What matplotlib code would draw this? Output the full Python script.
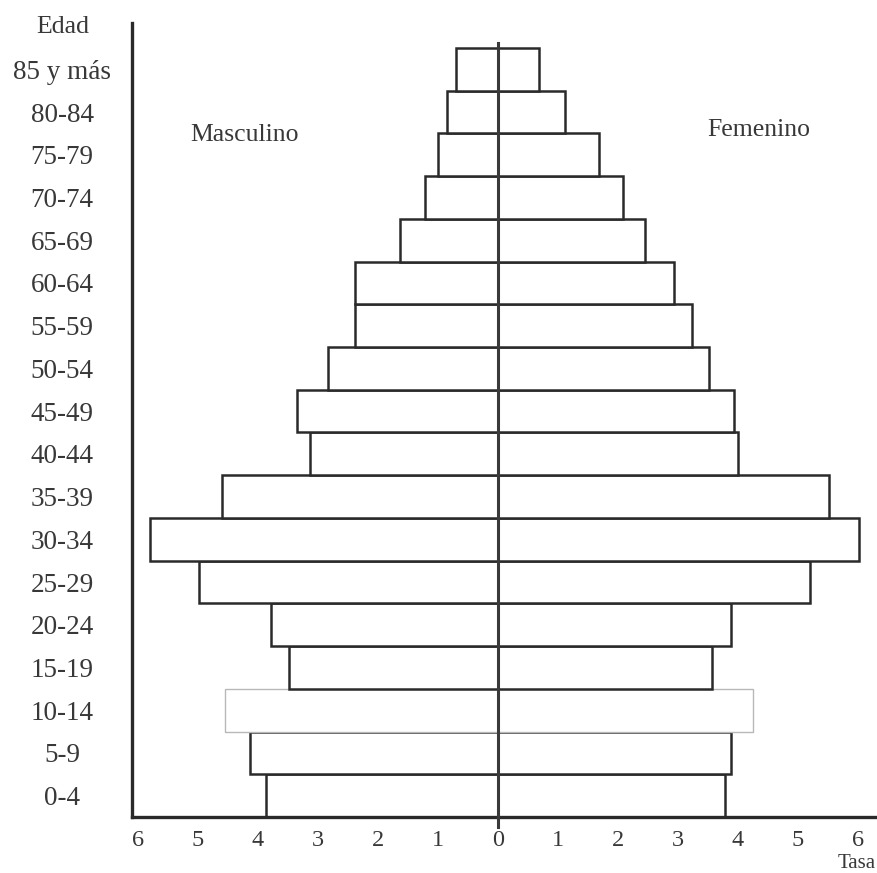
import matplotlib
matplotlib.use("Agg")
import matplotlib.pyplot as plt
import numpy as np

plt.rcParams['font.family'] = ['Liberation Serif', 'DejaVu Serif']

age_groups = ["0-4", "5-9", "10-14", "15-19", "20-24", "25-29", "30-34", "35-39",
              "40-44", "45-49", "50-54", "55-59", "60-64", "65-69", "70-74",
              "75-79", "80-84", "85 y más"]
masculino = [3.87, 4.13, 4.55, 3.48, 3.78, 4.98, 5.80, 4.60,
             3.13, 3.35, 2.83, 2.38, 2.38, 1.63, 1.22, 1.00, 0.85, 0.70]
femenino = [3.78, 3.88, 4.25, 3.57, 3.88, 5.20, 6.02, 5.52,
            4.00, 3.93, 3.52, 3.23, 2.93, 2.45, 2.08, 1.68, 1.12, 0.68]
x_ticks = [-6, -5, -4, -3, -2, -1, 0, 1, 2, 3, 4, 5, 6]
x_tick_labels = ["6", "5", "4", "3", "2", "1", "0", "1", "2", "3", "4", "5", "6"]

fig = plt.figure(figsize=(8.77, 8.73), dpi=100)
ax = fig.add_axes([0.150, 0.0641, 0.850, 0.9096])

y = np.arange(len(age_groups))
edge_colors = ['#2a2a2a'] * len(age_groups)
edge_widths = [1.8] * len(age_groups)
edge_colors[2] = '#b8b8b8'
edge_widths[2] = 1.0

ax.barh(y, [-m for m in masculino], height=1.0, color='white',
        edgecolor=edge_colors, linewidth=edge_widths, zorder=2)
ax.barh(y, femenino, height=1.0, color='white',
        edgecolor=edge_colors, linewidth=edge_widths, zorder=2)

ax.axvline(0, ymin=-0.012, ymax=0.975, color='#3a3a3a', lw=2.2, zorder=3, clip_on=False)

ax.set_xlim(-6.105, 6.317)
ax.set_ylim(-0.5, 18.085)

ax.set_xticks(x_ticks)
ax.set_xticklabels(x_tick_labels, fontsize=17.5, color='#383838')
ax.set_yticks(y)
ax.set_yticklabels(age_groups, fontsize=19.5, color='#383838', ha='center')
ax.tick_params(axis='x', length=0, pad=9.5)
ax.tick_params(axis='y', length=0, pad=50)

for s in ['top', 'right']:
    ax.spines[s].set_visible(False)
for s in ['left', 'bottom']:
    ax.spines[s].set_linewidth(2.4)
    ax.spines[s].set_color('#2a2a2a')

ax.text(-4.22, 15.47, "Masculino", fontsize=18.5, ha='center', va='center', color='#383838')
ax.text(4.35, 15.59, "Femenino", fontsize=18.5, ha='center', va='center', color='#383838')

fig.text(63 / 877, 1 - 27 / 873, "Edad", fontsize=18.5, ha='center', va='center', color='#383838')
fig.text(0.999, 0.5 / 873, "Tasa", fontsize=15, ha='right', va='bottom', color='#383838')

fig.savefig("out.png", dpi=100, facecolor='white')
